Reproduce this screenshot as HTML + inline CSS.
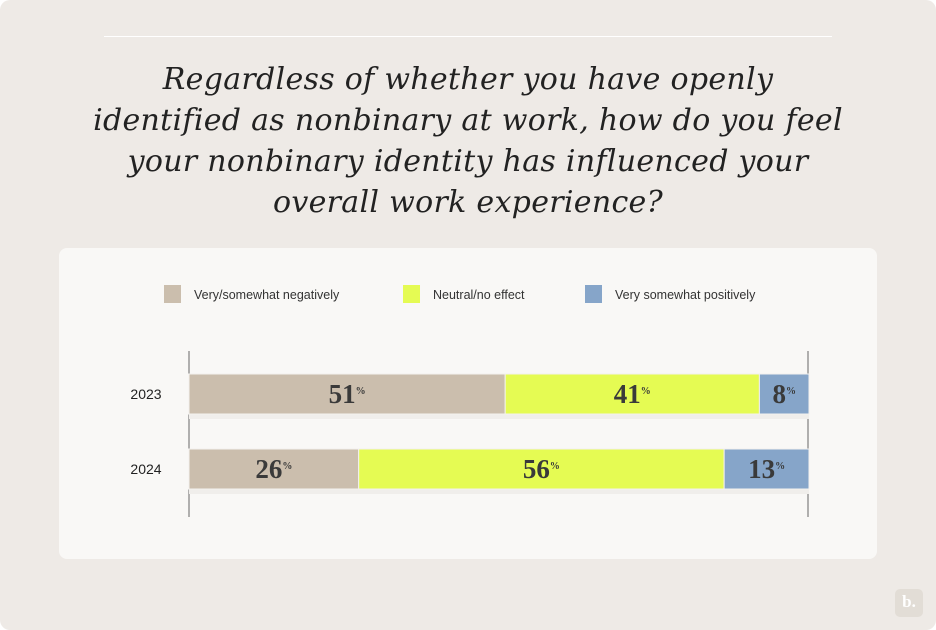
<!DOCTYPE html>
<html><head><meta charset="utf-8"><style>
body{margin:0;width:936px;height:630px;background:#fff;font-family:"Liberation Sans",sans-serif;}
#bg{position:absolute;left:0;top:0;width:936px;height:630px;background:#eeeae6;border-radius:10px;overflow:hidden}
#rule{position:absolute;left:104px;top:36px;width:728px;height:1px;background:#fff}
#title{position:absolute;left:0;top:59px;width:936px;text-align:center;font-family:"DejaVu Serif",serif;font-style:italic;font-size:30px;line-height:41px;color:#222;letter-spacing:0.3px}
#card{position:absolute;left:59px;top:248px;width:818px;height:311px;background:#f9f8f6;border-radius:8px}
#logo{position:absolute;left:895px;top:589px;width:28px;height:28px;border-radius:5px;background:#e2ddd6;color:#fff;font-family:"Liberation Serif",serif;font-weight:bold;font-size:17px;text-align:center;line-height:26px}
</style></head><body>
<div id="bg">
<div id="rule"></div>
<div id="title">Regardless of whether you have openly<br>identified as nonbinary at work, how do you feel<br>your nonbinary identity has influenced your<br>overall work experience?</div>
<div id="card"></div>
<svg id="chart" width="936" height="630" style="position:absolute;left:0;top:0"></svg>
<div id="logo">b.</div>
</div>
<script>
const categories=["2023","2024"];
const seriesNames=["Very/somewhat negatively","Neutral/no effect","Very somewhat positively"];
const negative=[51,26];
const neutral=[41,56];
const positive=[8,13];
const colors=["#cbbead","#e5fb53","#86a5c9"];
const svg=document.getElementById('chart');const NS="http://www.w3.org/2000/svg";
function mk(t,a){const e=document.createElementNS(NS,t);for(const k in a)e.setAttribute(k,a[k]);svg.appendChild(e);return e;}
const x0=189,x1=809;
const lx=[164,403,585];
seriesNames.forEach((n,i)=>{const r=mk('rect',{x:lx[i],y:285,width:17,height:18,fill:colors[i]});

const t=mk('text',{x:lx[i]+30,y:299,'font-size':12.5,fill:'#333','font-family':'Liberation Sans, sans-serif'});t.textContent=n;
});
[189,808].forEach(x=>{const l=mk('line',{x1:x,x2:x,y1:351,y2:517,stroke:'#666','stroke-width':1});
});
const series=[negative,neutral,positive];
const yTop=[374,449],bh=40;
categories.forEach((c,ci)=>{
const y=yTop[ci];
const total=series.reduce((s,a)=>s+a[ci],0);
const xs=v=>x0+(x1-x0)*v/total;
const sh=mk('rect',{x:x0,y:y+bh,width:x1-x0,height:5,fill:'#f0eeeb'});

const lab=mk('text',{x:146,y:y+bh/2+5,'font-size':14,fill:'#222','text-anchor':'middle'});lab.textContent=c;

let acc=0;
series.forEach((s,si)=>{const v=s[ci];const a=xs(acc),b=xs(acc+v);acc+=v;
const r=mk('rect',{x:a,y:y,width:b-a,height:bh,fill:colors[si],stroke:'#f3f1ee','stroke-width':1});

const t=mk('text',{x:(a+b)/2,y:y+bh/2+9,'font-size':27,'font-weight':'bold','font-family':'Liberation Serif, serif',fill:'#3a3a3a','text-anchor':'middle'});
t.textContent=v;const sp=document.createElementNS(NS,'tspan');sp.setAttribute('font-size','10');sp.setAttribute('dy','-9');sp.textContent='%';t.appendChild(sp);
});
});
</script>
</body></html>
